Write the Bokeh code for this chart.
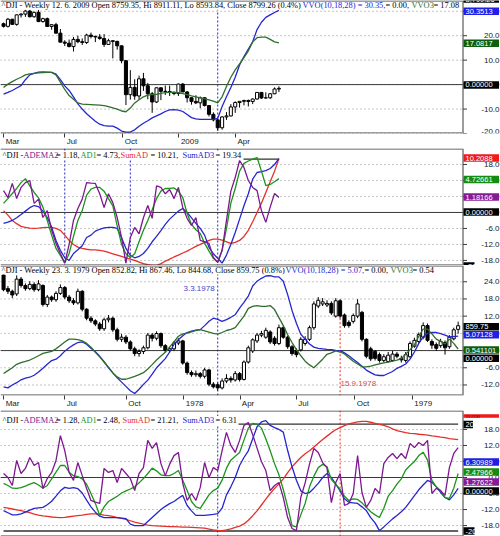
from bokeh.plotting import figure
from bokeh.layouts import column
from bokeh.models import Range1d, FixedTicker, Label, Span, ColumnDataSource
from bokeh.core.properties import value
from bokeh.embed import file_html
from bokeh.resources import INLINE

# ======================= DATA =======================
p1_xticks = [0, 14, 27.3, 40.1, 53.1]
p1_xlabels = ["Mar", "Jul", "Oct", "2009", "Apr"]
p3_xticks = [0, 14, 28.1, 41.2, 54.1, 67, 80.4, 93.5]
p3_xlabels = ["Mar", "Jul", "Oct", "1978", "Apr", "Jul", "Oct", "1979"]
p1_yticks = [30, 20, 10, 0, -10, -20]
p2_yticks = [18, 12, 6, 0, -6, -12, -18]
p3_yticks = [24, 18, 12, 6, 0, -6, -12]
p4_yticks = [18, 12, 6, 0, -6, -12, -18]
p2_marks = [14, 29, 49]
low_mark = 49
high_mark = 77
band_level = 20

p1_open = [12361,12216,12609,12325,12849,12891,13058,12745,12986,12479,
           12638,12209,12307,11842,11346,11288,11100,11496,11370,11326,
           11734,11659,11628,11543,11220,11421,11388,11143,10325,8451,
           8852,8378,9325,8943,8497,8046,8829,8635,8629,8579,
           8515,9034,8599,8281,8077,8000,8280,7850,7366,7062,
           6627,7224,7278,7776,8018,8083,8131,8076,8212,8575,
           8268,8277,8500,8759.35]
p1_high = [12420,12680,12620,12870,12940,13140,13130,13030,13130,12690,
           12700,12330,12410,12070,11450,11490,11630,11700,11550,11810,
           11870,11710,11790,11790,11530,11440,11420,11150,10340,9800,
           9300,9500,9650,9100,8600,8850,8850,8950,8950,8620,
           9060,9090,8650,8300,8420,8350,8300,7880,7480,7100,
           7260,7490,7930,8080,8090,8170,8180,8240,8590,8590,
           8580,8520,8850,8911.11]
p1_low = [12150,12150,12300,12250,12700,12740,12710,12690,12450,12420,
          12180,12030,11820,11330,11130,11060,10830,11290,11190,11240,
          11550,11350,11480,11080,11200,10450,10930,10180,7880,8180,
          8170,8180,8660,8200,7450,7990,8150,8430,8380,8420,
          8380,8590,8020,7900,7930,7700,7800,7250,6980,6470,
          6520,7060,7250,7450,7740,7860,7800,7930,8180,8220,
          8240,8220,8480,8593.84]
p1_close = [12216,12609,12325,12849,12891,13058,12745,12986,12479,12638,
            12209,12307,11842,11346,11288,11100,11496,11370,11326,11734,
            11659,11628,11543,11220,11421,11388,11143,10325,8451,8852,
            8378,9325,8943,8497,8046,8829,8635,8629,8579,8515,
            9034,8599,8281,8077,8000,8280,7850,7366,7062,6627,
            7224,7278,7776,8018,8083,8131,8076,8212,8575,8268,
            8277,8500,8764,8799.26]
p1_vvo = [-3.9,-3.2,-2.4,-1.4,-0.4,2.0,4.0,4.6,5.1,5.2,
          5.1,5.0,4.3,2.0,-0.5,-2.4,-5.0,-7.9,-10.0,-11.9,
          -13.5,-15.0,-16.2,-16.8,-17.0,-17.0,-17.8,-19.0,-19.4,-19.4,
          -18.5,-17.0,-15.8,-14.8,-13.6,-12.8,-12.0,-11.0,-10.3,-10.2,
          -10.4,-11.0,-12.2,-13.5,-14.0,-14.2,-14.2,-14.2,-14.2,-13.8,
          -9.0,-5.0,-1.2,3.0,8.0,11.5,14.5,17.5,22.5,25.5,
          27.5,28.5,29.5,30.35]
p1_vvo3 = [-1.2,0.2,1.2,2.2,3.0,4.0,4.4,4.6,4.8,4.9,
           5.0,5.0,4.0,1.0,-2.0,-4.5,-6.0,-7.5,-8.0,-8.1,
           -8.2,-8.3,-8.4,-8.6,-9.0,-9.5,-10.0,-10.8,-11.1,-9.6,
           -7.5,-6.2,-5.0,-4.3,-4.1,-4.0,-3.6,-3.3,-3.2,-3.2,
           -3.3,-3.7,-4.1,-4.6,-5.0,-5.4,-5.8,-6.2,-6.8,-7.5,
           -5.0,-0.8,3.0,6.0,8.5,11.0,13.8,17.5,19.2,19.4,
           19.4,18.5,17.5,17.08]

p2_adema2 = [8.2,5.6,10.9,5.2,9.4,11.2,12.0,3.4,5.0,-1.9,
             0.7,-6.7,-11.6,-15.4,-19.0,-12.0,-3.0,1.5,5.0,11.2,
             11.0,10.9,7.0,1.8,7.0,3.7,-1.9,-9.4,-19.0,-9.4,
             -5.6,-8.0,-2.0,2.6,-2.2,10.0,9.4,7.0,8.6,5.2,
             9.4,1.9,-2.2,-4.9,-1.9,-10.5,-11.0,-11.6,-16.9,-18.7,
             -14.2,-3.0,8.0,13.1,19.5,16.9,12.0,9.4,8.2,0.7,
             -3.7,2.0,7.1,5.6]
p2_ad1 = [3.4,5.2,7.1,9.0,11.2,12.7,10.0,7.5,5.5,2.0,
          -3.0,-8.5,-13.5,-16.1,-19.0,-15.4,-9.0,-3.0,0.7,6.5,
          8.8,9.4,9.4,8.0,5.2,2.5,-5.0,-12.0,-15.5,-16.9,
          -15.5,-11.0,-6.7,-3.0,1.0,5.2,8.0,9.0,9.0,9.2,
          8.0,5.6,-0.4,-4.5,-6.5,-7.9,-11.5,-14.5,-17.2,-18.7,
          -14.2,-6.0,3.5,9.0,15.5,18.4,19.3,20.0,20.6,15.5,
          10.1,10.5,11.5,12.7]
p2_sumad = [0.7,-1.0,-3.0,-4.2,-5.2,-5.6,-5.9,-6.0,-5.9,-5.7,
            -5.6,-5.6,-6.0,-6.7,-8.5,-10.5,-12.0,-13.0,-13.5,-13.8,
            -14.0,-14.0,-14.2,-14.5,-15.0,-15.5,-16.0,-16.5,-17.0,-17.5,
            -18.0,-18.6,-19.2,-19.6,-19.9,-19.9,-19.2,-18.3,-17.5,-16.7,
            -16.0,-15.2,-14.5,-13.6,-12.7,-12.0,-11.2,-10.5,-10.0,-10.0,
            -10.4,-11.0,-11.6,-11.2,-10.5,-9.0,-6.7,-3.5,0.0,3.5,
            7.5,11.5,15.5,20.2]
p2_sumad3 = [-4.1,-3.6,-3.0,-2.0,-0.8,0.5,1.8,2.6,2.2,0.5,
             -1.9,-5.5,-10.5,-14.2,-17.0,-18.0,-15.4,-14.0,-12.5,-9.4,
             -8.5,-7.0,-6.3,-5.8,-5.6,-5.6,-6.0,-9.5,-13.5,-16.1,
             -17.0,-16.5,-15.4,-13.5,-11.0,-9.0,-6.8,-4.5,-2.5,-1.0,
             0.5,1.5,0.0,-2.0,-4.1,-6.0,-8.5,-13.1,-15.5,-17.2,
             -19.0,-16.0,-12.0,-7.5,-2.5,2.5,7.0,12.5,15.0,15.3,
             15.7,16.5,18.0,20.2]

p3_open = [956,930,925,920,948,936,930,938,928,936,
           900,914,909,921,932,914,907,903,925,891,
           874,869,863,854,871,874,852,834,838,829,
           816,807,811,818,842,836,845,822,813,816,
           827,831,789,771,767,769,764,776,749,748,
           742,755,760,757,769,758,791,812,831,842,
           838,848,836,826,856,838,820,813,814,826,
           834,856,897,901,899,902,878,907,880,866,
           868,878,885,834,816,811,805,794,792,794,
           806,798,794,801,821,830,838,860,830,824,
           822,828,820,835,852.82]
p3_high = [962,935,928,955,952,940,944,942,946,938,
           918,917,925,938,935,918,912,930,927,893,
           878,872,867,875,880,877,856,844,842,832,
           820,815,822,846,846,849,847,825,820,831,
           836,833,792,775,775,772,780,778,753,752,
           760,768,764,774,772,794,822,836,846,850,
           856,851,840,862,860,841,823,817,838,840,
           860,906,914,912,908,906,912,910,883,870,
           883,910,888,836,820,814,809,806,810,812,
           810,803,810,830,837,847,866,864,834,828,
           835,832,842,856,867.46]
p3_low = [925,920,912,916,932,926,927,924,925,896,
          895,905,905,918,910,903,899,900,887,870,
          865,859,850,850,866,848,830,829,825,812,
          802,801,806,815,830,832,818,809,809,812,
          823,786,767,763,763,760,760,745,741,737,
          739,751,752,754,754,756,788,808,827,838,
          835,825,822,823,835,816,803,800,811,822,
          831,852,893,897,895,880,875,874,856,856,
          864,874,830,798,793,794,790,790,790,792,
          798,790,790,798,818,827,834,829,816,812,
          818,805,816,832,844.68]
p3_close = [928,925,918,948,936,930,938,928,939,900,
            914,909,921,932,914,907,903,925,891,874,
            869,863,854,871,874,852,834,838,829,816,
            807,811,818,842,836,845,822,813,816,827,
            831,789,771,767,769,764,776,749,744,742,
            755,760,757,769,758,791,818,833,842,845,
            851,829,826,856,838,820,807,805,834,834,
            856,901,908,905,902,884,907,878,860,860,
            879,901,834,802,797,798,794,801,804,806,
            802,795,805,826,832,843,860,832,823,817,
            830,818,838,852,859.75]
p3_vvo = [-12.7,-13.0,-12.0,-11.2,-10.2,-9.6,-9.3,-8.6,-7.5,-6.2,
          -4.8,-3.5,-3.0,-1.8,-0.2,1.0,2.0,2.8,3.0,2.2,
          0.8,-0.4,-2.0,-3.9,-6.0,-7.8,-9.5,-11.0,-12.5,-14.0,
          -15.0,-13.5,-11.8,-10.3,-8.2,-6.0,-4.4,-2.8,-0.5,2.2,
          3.8,5.2,6.3,6.8,7.1,7.3,8.7,10.2,11.3,10.9,
          10.2,10.8,11.6,12.5,14.8,16.8,19.0,22.5,24.2,25.2,
          26.0,26.1,25.7,25.7,24.2,19.5,14.0,9.5,5.7,4.0,
          2.3,1.2,0.8,0.6,0.4,0.3,0.1,0.0,-0.8,-1.8,
          -3.0,-4.2,-5.5,-6.8,-7.7,-8.5,-8.7,-8.7,-8.0,-7.3,
          -6.2,-5.5,-4.7,-3.0,-0.5,2.5,4.8,6.0,6.3,6.3,
          5.9,5.4,4.8,4.9,5.07]
p3_vvo3 = [-8.0,-7.0,-6.0,-4.8,-4.2,-3.8,-3.3,-2.6,-1.8,-1.0,
           -0.6,-0.3,0.6,1.8,3.0,4.0,4.0,3.8,3.4,2.5,
           1.2,-0.6,-2.2,-4.0,-5.8,-7.8,-9.2,-10.0,-10.0,-9.5,
           -9.0,-8.4,-7.7,-6.4,-4.9,-3.3,-1.9,-0.6,1.3,3.0,
           5.0,5.8,6.1,6.5,7.0,7.3,6.9,6.4,6.0,5.7,
           6.3,7.0,7.4,8.0,10.0,12.0,14.7,15.4,15.7,15.4,
           15.4,15.7,14.3,11.5,8.7,5.5,2.8,0.3,-1.8,-3.7,
           -5.0,-6.0,-4.5,-3.0,-1.3,-0.8,-0.1,-0.5,-1.2,-2.5,
           -3.7,-4.7,-5.6,-5.7,-5.4,-5.0,-4.6,-4.3,-4.0,-3.7,
           -3.3,-2.8,-1.3,0.3,2.0,5.0,7.5,7.5,5.8,4.0,
           3.2,2.3,4.0,2.5,0.54]

p4_adema2 = [1.5,0.0,-3.0,6.4,1.5,3.4,7.5,4.5,5.6,-4.1,
             -0.4,1.9,6.4,15.7,10.1,1.9,-1.1,5.6,0.7,-4.1,
             -8.6,-9.2,-9.7,3.4,1.9,2.6,-1.9,3.4,1.5,-0.4,
             -4.9,1.5,3.7,13.9,10.9,13.1,5.2,0.7,5.0,8.2,
             9.4,-2.2,-8.6,-6.0,-8.6,-3.7,5.6,0.0,3.7,2.6,
             10.1,16.9,12.0,9.4,13.9,19.5,20.6,16.0,11.0,6.0,
             2.6,-4.9,-3.0,-1.9,-7.5,-15.0,-19.1,-19.9,-7.5,-2.0,
             5.0,10.9,9.4,5.6,3.7,-9.4,-1.9,1.5,-10.5,-9.7,
             -6.0,8.2,-5.6,-11.2,-8.6,-4.1,-6.0,5.2,7.5,9.0,
             7.1,9.0,7.1,12.7,11.2,13.1,12.0,13.9,-6.0,-4.1,
             -4.9,-6.7,3.7,9.0,11.2]
p4_ad1 = [-2.2,-3.0,-4.0,-4.1,-3.8,-3.2,-2.5,-1.9,-2.8,-4.0,
          -3.0,-0.5,2.0,4.5,4.5,2.0,0.7,0.3,-0.5,-2.5,
          -6.0,-9.7,-14.2,-11.0,-9.0,-8.0,-7.0,-5.8,-5.0,-4.3,
          -3.5,-2.0,-0.4,1.5,3.5,2.5,1.0,0.7,0.7,1.5,
          2.6,-1.0,-4.9,-9.0,-11.0,-11.6,-9.0,-6.5,-4.9,-4.0,
          -1.0,3.5,6.5,8.0,9.4,14.0,18.5,20.3,20.0,18.5,
          14.5,10.0,5.2,1.0,-4.5,-11.0,-18.0,-18.5,-14.0,-9.7,
          -3.5,0.5,3.7,5.0,4.0,-0.8,-2.5,-4.5,-7.0,-8.6,
          -8.0,-8.2,-9.5,-11.2,-12.8,-14.0,-15.0,-11.5,-7.0,-4.9,
          -2.5,-0.5,2.8,4.5,6.0,8.2,9.5,6.5,-1.1,-3.5,
          -5.0,-7.5,-7.8,-4.0,1.5]
p4_sumad = [-11.2,-11.5,-11.8,-12.1,-12.4,-12.8,-13.2,-13.7,-14.1,-14.4,
            -14.6,-14.8,-14.9,-15.0,-14.9,-14.7,-14.5,-14.3,-14.1,-13.8,
            -13.6,-13.6,-13.8,-14.1,-14.3,-14.6,-15.0,-15.3,-15.7,-16.2,
            -16.7,-17.1,-17.5,-17.8,-18.0,-18.1,-18.2,-18.3,-18.4,-18.4,
            -18.5,-18.6,-18.6,-18.7,-18.8,-18.9,-19.0,-19.3,-19.6,-19.8,
            -19.9,-19.6,-19.2,-18.7,-18.2,-17.4,-16.0,-14.3,-12.5,-10.3,
            -8.1,-6.0,-4.1,-2.4,-0.5,1.8,4.0,5.8,7.5,8.9,
            10.0,11.4,12.8,14.2,15.5,16.8,17.9,18.7,19.4,20.1,
            20.5,20.8,21.0,21.0,20.7,20.3,19.9,19.5,19.0,18.2,
            17.6,17.2,16.8,16.5,16.4,16.2,16.1,15.9,15.6,15.4,
            15.1,14.9,14.6,14.4,14.2]
p4_sumad3 = [-12.4,-13.2,-14.0,-14.0,-13.6,-13.0,-12.2,-11.6,-11.4,-11.2,
             -10.2,-8.9,-7.0,-5.0,-3.7,-4.1,-3.8,-4.2,-5.8,-8.5,
             -11.0,-13.0,-14.5,-15.0,-15.0,-15.0,-15.0,-15.2,-15.4,-17.5,
             -18.0,-18.0,-18.0,-16.5,-15.0,-13.5,-12.0,-10.8,-9.8,-9.0,
             -7.8,-6.7,-10.5,-12.5,-14.2,-14.2,-14.2,-14.0,-13.8,-13.5,
             -11.5,-6.5,-3.5,0.0,4.5,7.5,10.0,14.5,19.0,20.8,
             21.3,19.5,18.7,18.0,17.0,10.1,4.0,-1.0,-5.0,-6.0,
             -5.6,-4.0,-2.2,0.0,1.5,0.0,-2.5,-5.0,-8.0,-9.3,
             -9.5,-9.7,-11.0,-12.4,-15.0,-17.0,-19.9,-18.5,-17.0,-15.5,
             -14.2,-12.8,-11.2,-9.0,-6.8,-4.6,-2.8,-1.1,-1.8,-3.5,
             -5.6,-7.5,-8.4,-6.5,-4.1]

# ======================= STYLE / LAYOUT =======================
W = 500
PW = 462                      # right edge of the plotting area (px)
PXU = 462 / 105.7             # pixels per weekly bar
X0 = -0.7
XR = (X0, X0 + W / PXU)
BLUE = "#2626d0"
GREEN_DK = "#2f6e2f"
GREEN = "#1b951b"
PURPLE = "#7e1890"
RED = "#e5302a"
AXC = "#3a3a3a"
TFONT = "Liberation Sans Narrow"
AFONT = "Liberation Sans"
TSIZE = "8.4px"
LABEL_SHIFT = {"Mar": 9, "Jul": 7, "Oct": 8, "Apr": 8, "2009": 11, "1978": 11, "1979": 11}


def dx(px):
    return X0 + px / PXU


class Panel:
    def __init__(self, top, fh, axis_h, yr, yticks, xticks=None, xlabels=None, price=None):
        self.top, self.fh, self.yr = top, fh, yr
        p = figure(width=W, height=fh + axis_h, x_range=Range1d(*XR), y_range=Range1d(*yr),
                   output_backend="svg", toolbar_location=None,
                   x_axis_location="below" if xticks else None, y_axis_location=None,
                   min_border_left=0, min_border_right=0, min_border_top=0,
                   min_border_bottom=axis_h)
        if price is not None:
            p.extra_y_ranges = {"price": Range1d(*price)}
        p.background_fill_color = "white"
        p.border_fill_color = "white"
        p.outline_line_color = None
        p.xgrid.visible = False
        p.ygrid.visible = False
        if xticks:
            xa = p.xaxis[0]
            shifted = [t + LABEL_SHIFT[s] / PXU for t, s in zip(xticks, xlabels)]
            xa.ticker = FixedTicker(ticks=shifted, minor_ticks=xticks)
            xa.major_label_overrides = {t: s for t, s in zip(shifted, xlabels)}
            xa.major_label_text_font = AFONT
            xa.major_label_text_font_size = "8px"
            xa.major_label_text_color = "#202020"
            xa.major_tick_line_color = None
            xa.major_tick_out = 0
            xa.major_tick_in = 0
            xa.minor_tick_out = 4
            xa.minor_tick_in = 0
            xa.minor_tick_line_color = AXC
            xa.major_label_standoff = -1
            xa.axis_line_color = None
        self.p = p
        self.yticks = yticks
        n = len(yticks)
        p.segment(x0=[dx(0)] * n, x1=[dx(PW)] * n, y0=yticks, y1=yticks,
                  line_color="#8a8a8a", line_dash="1 3", line_width=1)
        p.segment(x0=[dx(0)], x1=[dx(PW)], y0=[0], y1=[0], line_color=AXC, line_width=1)

    def dy(self, py):
        y0, y1 = self.yr
        return y1 - (py - self.top) * (y1 - y0) / self.fh

    def py(self, y):
        y0, y1 = self.yr
        return self.top + (y1 - y) * self.fh / (y1 - y0)

    def frame_and_axis(self):
        p = self.p
        top_y, bot_y = self.dy(self.top + 0.5), self.dy(self.top + self.fh - 0.5)
        p.segment(x0=[dx(0), dx(0)], x1=[dx(PW), dx(PW)], y0=[top_y, bot_y], y1=[top_y, bot_y],
                  line_color=AXC, line_width=1)
        p.segment(x0=[dx(PW + 0.5)], x1=[dx(PW + 0.5)], y0=[self.yr[0]], y1=[self.yr[1]],
                  line_color=AXC, line_width=1)
        n = len(self.yticks)
        p.segment(x0=[dx(PW + 0.5)] * n, x1=[dx(PW + 4.5)] * n, y0=self.yticks, y1=self.yticks,
                  line_color=AXC, line_width=1)
        for t in self.yticks:
            ppos = self.py(t)
            base = "middle"
            if ppos > self.top + self.fh - 5:
                base = "bottom"
            elif ppos < self.top + 5:
                base = "top"
            p.text(x=[dx(499)], y=[t], text=["%.1f" % t], text_align="right",
                   text_baseline=base, text_font=value(AFONT), text_font_size="8px",
                   text_color="#202020")

    def box(self, py, s, bg, fg="white", w=35.5, h=7.5, size="7.5px"):
        cx = 463 + w / 2.0
        self.p.rect(x=[dx(cx)], y=[self.dy(py)], width=w, height=h, width_units="screen",
                    height_units="screen", fill_color=bg, line_color=None)
        self.p.text(x=[dx(465)], y=[self.dy(py)], text=[s], text_color=fg, text_align="left",
                    text_baseline="middle", text_font=value(AFONT), text_font_size=size)

    def title_bg(self, py, x_end):
        self.p.quad(left=[dx(0)], right=[dx(x_end)], top=[self.dy(py - 4.5)],
                    bottom=[self.dy(py + 4.5)], fill_color="white", line_color=None)

    def title(self, px, py, s, color, size=TSIZE, font=TFONT):
        self.p.add_layout(Label(x=dx(px), y=self.dy(py), text=s, text_color=color,
                                text_font=font, text_font_size=size, text_baseline="middle",
                                text_align="left"))

    def vmark(self, loc, color):
        self.p.add_layout(Span(location=loc, dimension="height", line_color=color,
                               line_dash="2 2", line_width=1, level="underlay"))

    def line(self, vals, color, w=1.3):
        self.p.line(x=list(range(len(vals))), y=vals, line_color=color, line_width=w)

    def band(self, n, level, w=1.2):
        self.p.line(x=[0, n - 1], y=[level, level], line_color="#303030", line_width=w)

    def candles(self, o, h, l, c):
        n = len(c)
        src = ColumnDataSource(dict(
            x=list(range(n)), h=h, l=l,
            top=[max(a, b) for a, b in zip(o, c)],
            bot=[min(a, b) for a, b in zip(o, c)],
            fill=["white" if cc >= oo else "black" for oo, cc in zip(o, c)]))
        self.p.segment(x0="x", y0="h", x1="x", y1="l", source=src, line_color="black",
                       line_width=1, y_range_name="price")
        self.p.vbar(x="x", width=0.7, top="top", bottom="bot", source=src, fill_color="fill",
                    line_color="black", line_width=1, y_range_name="price")


# ---------------- Panel 1 ----------------
P1 = Panel(0, 137, 11, (-20.0, 34.4), p1_yticks, p1_xticks, p1_xlabels, price=(6311, 13640))
P1.vmark(low_mark, BLUE)
P1.candles(p1_open, p1_high, p1_low, p1_close)
P1.line(p1_vvo, BLUE)
P1.line(p1_vvo3, GREEN_DK)
P1.title_bg(5, 459)
P1.frame_and_axis()
P1.box(-1.5, "8,799.26", "black")
P1.box(11, "30.3513", "#1e1ee6")
P1.box(44, "17.0817", "#0e5e0e")
P1.box(87, "0.00000", "black")
P1.title(1, 5, "^DJI - Weekly 12. 6. 2009 Open 8759.35, Hi 8911.11, Lo 8593.84, Close 8799.26 (0.4%)", "black")
P1.title(302, 5, "VVO(10,18,28) = 30.35,", BLUE)
P1.title(385, 5, "= 0.00,", "black")
P1.title(411, 5, "VVO3", GREEN_DK)
P1.title(433, 5, "= 17.08", "black")

# ---------------- Panel 2 ----------------
P2 = Panel(148, 117, 0, (-19.9, 24.0), p2_yticks)
for m in p2_marks:
    P2.vmark(m, BLUE)
P2.band(len(p2_ad1), band_level)
P2.band(len(p2_ad1), -band_level)
P2.line(p2_sumad, RED)
P2.line(p2_sumad3, BLUE)
P2.line(p2_ad1, GREEN)
P2.line(p2_adema2, PURPLE)
P2.title_bg(155, 243)
P2.frame_and_axis()
P2.box(157.5, "10.2088", "#f01a1a")
P2.box(179, "4.72661", "#148c14")
P2.box(196.5, "1.18166", "#861a96")
P2.box(211.5, "0.00000", "black")
P2.box(265.5, "-20", "black", w=11)
P2.title(2, 155, "^DJI - ", "black")
P2.title(23, 155, "ADEMA2", PURPLE)
P2.title(55.5, 155, "= 1.18,", "black")
P2.title(80, 155, "AD1", GREEN)
P2.title(96, 155, "= 4.73,", "black")
P2.title(120, 155, "SumAD", RED)
P2.title(150, 155, "= 10.21,", "black")
P2.title(182, 155, "SumAD3", BLUE)
P2.title(215, 155, "= 19.34", "black")

# ---------------- Panel 3 ----------------
P3 = Panel(265, 136, 9, (-15.67, 29.67), p3_yticks, p3_xticks, p3_xlabels, price=(727.6, 973.8))
P3.vmark(low_mark, BLUE)
P3.p.segment(x0=[high_mark], y0=[p3_low[high_mark]], x1=[high_mark], y1=[727.6],
             y_range_name="price", line_color=RED, line_dash="2 2", line_width=1)
P3.candles(p3_open, p3_high, p3_low, p3_close)
P3.line(p3_vvo, BLUE)
P3.line(p3_vvo3, GREEN_DK)
P3.title_bg(270, 438)
P3.frame_and_axis()
P3.box(329, "859.75", "black")
P3.box(337.5, "5.07128", "#1e1ee6")
P3.box(353.5, "0.541101", "#0e5e0e")
P3.box(362, "0.00000", "black")
P3.title(1, 270, "^DJI - Weekly 23. 3. 1979 Open 852.82, Hi 867.46, Lo 844.68, Close 859.75 (0.8%)", "black")
P3.title(285, 270, "VVO(10,18,28) = 5.07,", BLUE)
P3.title(364, 270, "= 0.00,", "black")
P3.title(390, 270, "VVO3", GREEN_DK)
P3.title(412, 270, "= 0.54", "black")
P3.title(183, 289.5, "3.3.1978", "#4444cc", size="8px", font=AFONT)
P3.title(340, 388.5, "15.9.1978", "#e04848", size="8px", font=AFONT)

# ---------------- Panel 4 ----------------
P4 = Panel(410, 126, 0, (-22.1, 25.1), p4_yticks)
P4.vmark(low_mark, BLUE)
P4.vmark(high_mark, RED)
P4.band(len(p4_ad1), band_level)
P4.band(len(p4_ad1), -band_level, w=1.5)
P4.line(p4_sumad, RED)
P4.line(p4_sumad3, BLUE)
P4.line(p4_ad1, GREEN)
P4.line(p4_adema2, PURPLE)
P4.title_bg(420, 238)
P4.frame_and_axis()
P4.box(415.5, "21.2130", "#f01a1a", fg="#700000", h=3.5, size="4px")
P4.box(424, "20", "black", w=9.5)
P4.box(461.5, "6.30989", "#1e1ee6")
P4.box(471.5, "2.47966", "#148c14")
P4.box(481.5, "1.27622", "#861a96")
P4.box(490.5, "0.00000", "black")
P4.box(530.5, "-20", "black", w=11)
P4.title(2, 420, "^DJI - ", "black")
P4.title(23, 420, "ADEMA2", PURPLE)
P4.title(55.5, 420, "= 1.28,", "black")
P4.title(80, 420, "AD1", GREEN)
P4.title(96, 420, "= 2.48,", "black")
P4.title(122, 420, "SumAD", RED)
P4.title(150, 420, "= 21.21,", "black")
P4.title(182, 420, "SumAD3", BLUE)
P4.title(215, 420, "= 6.31", "black")

layout = column(P1.p, P2.p, P3.p, P4.p, spacing=0)
open("out.html", "w").write(file_html(layout, INLINE))
